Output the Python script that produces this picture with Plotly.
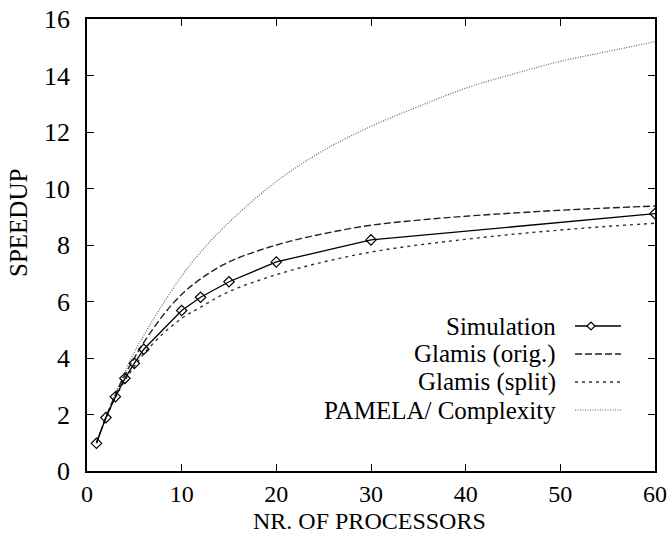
import plotly.graph_objects as go

# ---- data ----
sim_x = [1, 2, 3, 4, 5, 6, 10, 12, 15, 20, 30, 60]
sim_y = [0.98, 1.89, 2.63, 3.28, 3.81, 4.31, 5.68, 6.15, 6.70, 7.40, 8.18, 9.11]

curve_x = [1, 2, 3, 4, 5, 6, 8, 10, 12, 15, 20, 25, 30, 35, 40, 45, 50, 55, 60]
orig_y = [1.0, 1.9, 2.7, 3.4, 4.0, 4.55, 5.5, 6.25, 6.8, 7.4, 8.0, 8.4, 8.7, 8.88, 9.02, 9.13, 9.23, 9.31, 9.38]
split_y = [1.0, 1.88, 2.6, 3.2, 3.7, 4.15, 4.85, 5.4, 5.8, 6.35, 6.95, 7.4, 7.75, 8.0, 8.2, 8.38, 8.53, 8.66, 8.77]
pamela_y = [1.0, 1.9, 2.75, 3.5, 4.2, 4.8, 5.9, 6.9, 7.75, 8.8, 10.25, 11.35, 12.2, 12.9, 13.55, 14.05, 14.5, 14.85, 15.2]

x_ticks = [0, 10, 20, 30, 40, 50, 60]
y_ticks = [0, 2, 4, 6, 8, 10, 12, 14, 16]

series_names = ["Simulation", "Glamis (orig.)", "Glamis (split)", "PAMELA/ Complexity"]

FONT = "Liberation Serif"
FS = 26

fig = go.Figure()
fig.add_trace(go.Scatter(x=curve_x, y=pamela_y, mode="lines", name=series_names[3],
                         line=dict(color="#666666", width=1.2, dash="1px,1.5px", shape="spline")))
fig.add_trace(go.Scatter(x=curve_x, y=split_y, mode="lines", name=series_names[2],
                         line=dict(color="#333333", width=1.4, dash="3px,4px", shape="spline")))
fig.add_trace(go.Scatter(x=curve_x, y=orig_y, mode="lines", name=series_names[1],
                         line=dict(color="#222222", width=1.4, dash="7px,3px", shape="spline")))
fig.add_trace(go.Scatter(x=sim_x, y=sim_y, mode="lines+markers", name=series_names[0],
                         line=dict(color="black", width=1.3),
                         marker=dict(symbol="diamond-open", size=8, color="black",
                                     line=dict(width=1.2, color="black"))))

axis_common = dict(showgrid=False, zeroline=False, showline=True, linecolor="black",
                   linewidth=1.5, mirror="ticks", ticks="inside", ticklen=7,
                   tickcolor="black", tickwidth=1, automargin=False)

fig.update_xaxes(range=[0, 60], tickvals=x_ticks, ticktext=[str(v) for v in x_ticks],
                 ticklabelstandoff=0, tickfont=dict(family=FONT, size=24, color="black"),
                 **axis_common)
fig.update_yaxes(range=[0, 16], tickvals=y_ticks, ticktext=[str(v) for v in y_ticks],
                 ticklabelstandoff=10, tickfont=dict(family=FONT, size=FS, color="black"),
                 **axis_common)

def px_x(p):
    return (p - 87) / 568.0

def px_y(p):
    return (471 - p) / 452.0

annotations = [
    dict(text="NR. OF PROCESSORS", x=px_x(369), y=px_y(521), xref="paper", yref="paper",
         showarrow=False, xanchor="center", yanchor="middle",
         font=dict(family=FONT, size=24, color="black")),
    dict(text="SPEEDUP", x=px_x(18), y=px_y(223), xref="paper", yref="paper",
         showarrow=False, xanchor="center", yanchor="middle", textangle=-90,
         font=dict(family=FONT, size=25, color="black")),
]

rows_py = [326, 354, 382, 410]
styles = [("black", 1.3, "solid"), ("#222222", 1.4, "7px,3px"),
          ("#333333", 1.4, "3px,4px"), ("#666666", 1.2, "1px,1.5px")]
shapes = []
for name, py, (col, w, d) in zip(series_names, rows_py, styles):
    annotations.append(dict(text=name, x=px_x(558), y=px_y(py), xref="paper", yref="paper",
                            showarrow=False, xanchor="right", yanchor="middle",
                            font=dict(family=FONT, size=25, color="black")))
    shapes.append(dict(type="line", xref="paper", yref="paper",
                       x0=px_x(575), x1=px_x(621), y0=px_y(py), y1=px_y(py),
                       line=dict(color=col, width=w, dash=d)))

# diamond sample for the Simulation key
cx, cy = px_x(591), px_y(rows_py[0])
dx, dy = 4 / 568.0, 4 / 452.0
shapes.append(dict(type="path", xref="paper", yref="paper",
                   path=f"M {cx-dx} {cy} L {cx} {cy+dy} L {cx+dx} {cy} L {cx} {cy-dy} Z",
                   fillcolor="white", line=dict(color="black", width=1.2)))

fig.update_layout(
    width=670, height=533,
    margin=dict(l=87, r=15, t=19, b=62),
    plot_bgcolor="white", paper_bgcolor="white",
    showlegend=False,
    annotations=annotations,
    shapes=shapes,
)

fig.write_html("out.html", config={"displayModeBar": False},
               post_script="document.body.style.margin='0';document.body.style.padding='0';")
